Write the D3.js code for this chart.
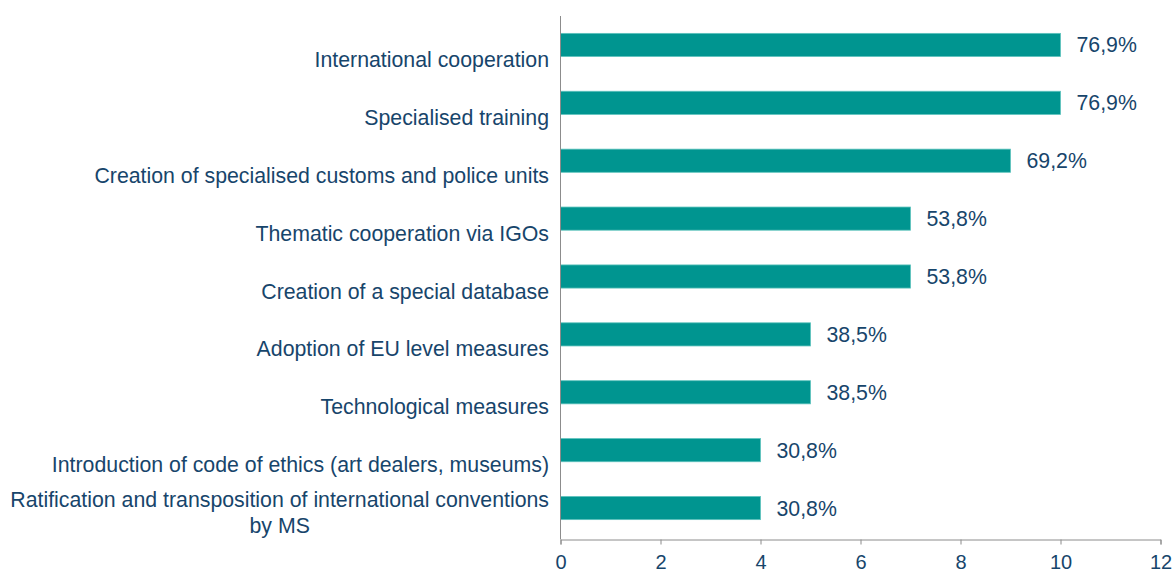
<!DOCTYPE html>
<html>
<head>
<meta charset="utf-8">
<script src="https://cdn.jsdelivr.net/npm/d3@7"></script>
<style>
  body { margin: 0; background: #fff; }
  text { font-family: "Liberation Sans", Arial, sans-serif; fill: #17456b; }
</style>
</head>
<body>
<script>
const categories = [
  ["International cooperation"],
  ["Specialised training"],
  ["Creation of specialised customs and police units"],
  ["Thematic cooperation via IGOs"],
  ["Creation of a special database"],
  ["Adoption of EU level measures"],
  ["Technological measures"],
  ["Introduction of code of ethics (art dealers, museums)"],
  ["Ratification and transposition of international conventions", "by MS"],
];
const counts = [10, 10, 9, 7, 7, 5, 5, 4, 4];
const shares = ["76,9%", "76,9%", "69,2%", "53,8%", "53,8%", "38,5%", "38,5%", "30,8%", "30,8%"];
const xTicks = [0, 2, 4, 6, 8, 10, 12];

const width = 1176, height = 572;
const fs = 21.3;
const svg = d3.select("body").append("svg")
  .attr("width", width)
  .attr("height", height);

const x = d3.scaleLinear().domain([0, 12]).range([560.5, 1160.5]);
const y = d3.scaleBand()
  .domain(d3.range(categories.length))
  .range([16, 537])
  .paddingInner(0.6)
  .paddingOuter(0.3);

// bars
svg.selectAll("rect.bar")
  .data(counts)
  .enter()
  .append("rect")
  .attr("class", "bar")
  .attr("x", x(0))
  .attr("y", (d, i) => y(i))
  .attr("width", (d) => x(d) - x(0))
  .attr("height", y.bandwidth())
  .attr("fill", "#009590")
  .attr("stroke", "#5ec3bd")
  .attr("stroke-width", 0.8);

// value labels
svg.selectAll("text.val")
  .data(shares)
  .enter()
  .append("text")
  .attr("class", "val")
  .attr("x", (d, i) => x(counts[i]) + 16)
  .attr("y", (d, i) => y(i) + y.bandwidth() / 2)
  .attr("dy", "0.35em")
  .attr("font-size", fs)
  .text((d) => d);

// category labels
const lab = svg.selectAll("text.cat")
  .data(categories)
  .enter()
  .append("text")
  .attr("class", "cat")
  .attr("font-size", fs)
  .attr("text-anchor", "end")
  .attr("transform", (d, i) => {
    const c = y(i) + y.bandwidth() / 2;
    return `translate(549,${d.length > 1 ? c - 1 : c + 22})`;
  });
lab.each(function (d) {
  const t = d3.select(this);
  d.forEach((line, k) => {
    t.append("tspan")
      .attr("x", 0)
      .attr("y", k * 26)
      .attr("text-anchor", k === 0 ? "end" : "middle")
      .text(line);
  });
});
// center the second line under the first
lab.filter((d) => d.length > 1).each(function () {
  const spans = d3.select(this).selectAll("tspan").nodes();
  const w = spans[0].getComputedTextLength();
  d3.select(spans[1]).attr("x", -w / 2);
});

// axes
const axis = svg.append("g")
  .attr("transform", "translate(0,539.5)")
  .call(d3.axisBottom(x).tickValues(xTicks).tickSize(5).tickPadding(10));
axis.select(".domain").attr("stroke", "#8c8c8c");
axis.selectAll(".tick line").attr("stroke", "#8c8c8c");
axis.selectAll(".tick text")
  .attr("font-size", 20)
  .attr("font-family", "Liberation Sans, Arial, sans-serif")
  .attr("fill", "#17456b");

svg.append("line")
  .attr("x1", x(0)).attr("x2", x(0))
  .attr("y1", 16).attr("y2", 539.5)
  .attr("stroke", "#8c8c8c");
</script>
</body>
</html>
